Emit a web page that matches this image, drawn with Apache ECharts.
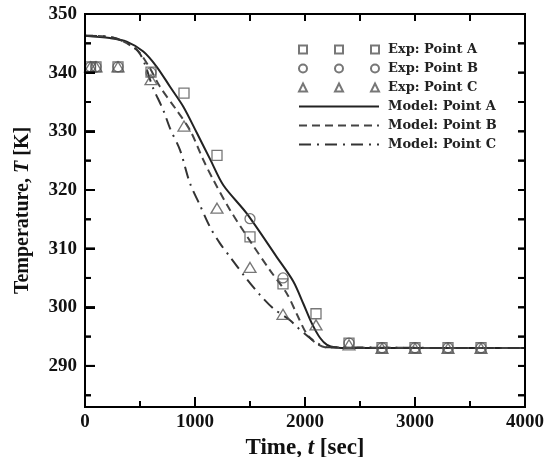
<!DOCTYPE html>
<html>
<head>
<meta charset="utf-8">
<script src="https://cdn.jsdelivr.net/npm/echarts@6/dist/echarts.min.js"></script>
<style>
html,body{margin:0;padding:0;background:#fff;}
#chart{width:555px;height:457px;}
</style>
</head>
<body>
<div id="chart"></div>
<script>
// ---- data ----
const expA = [[50,341],[100,341],[300,341],[600,340.1],[900,336.5],[1200,325.9],[1500,312.0],[1800,304.0],[2100,298.9],[2400,293.9],[2700,293.1],[3000,293.1],[3300,293.1],[3600,293.1]];
const expB = [[50,341],[100,341],[300,341],[600,340],[1500,315.1],[1800,305.0],[2400,293.9],[2700,293.1],[3000,293.1],[3300,293.1],[3600,293.1]];
const expC = [[50,341],[100,341],[300,341],[600,338.8],[900,330.9],[1200,316.9],[1500,306.8],[1800,298.8],[2100,297.0],[2400,293.6],[2700,293.0],[3000,293.0],[3300,293.0],[3600,293.0]];

const modelA = [[0,346.3],[227,345.9],[379,345.3],[530,343.6],[652,341.0],[773,337.6],[894,334.2],[1015,329.8],[1136,325.3],[1258,320.8],[1470,316.0],[1742,308.6],[1894,304.4],[1985,300.6],[2061,297.3],[2136,294.8],[2200,293.6],[2280,293.15],[2400,293.05],[4000,293.05]];
const modelB = [[0,346.3],[250,346.0],[470,343.9],[582,341.0],[682,337.6],[833,333.6],[955,330.2],[1076,325.1],[1167,321.7],[1318,316.6],[1515,310.9],[1682,306.3],[1833,302.4],[1924,298.9],[2015,295.5],[2106,293.8],[2200,293.15],[4000,293.05]];
const modelC = [[0,346.3],[250,346.0],[485,343.6],[621,337.3],[712,333.6],[773,330.5],[864,326.8],[955,321.1],[1045,317.4],[1136,313.7],[1227,310.9],[1318,308.6],[1455,305.2],[1591,302.1],[1712,299.8],[1864,297.8],[1924,296.7],[2030,295.0],[2120,293.8],[2200,293.2],[4000,293.05]];

const seriesNames = ['Exp: Point A','Exp: Point B','Exp: Point C','Model: Point A','Model: Point B','Model: Point C'];
const xMajorTicks = [1000,2000,3000];
const xMinorTicks = [500,1500,2500,3500];
const xTopTicks = [500,1000,1500,2000,2500,3000,3500];
const yMajorTicks = [290,300,310,320,330,340,350];
const yMinorTicks = [285,295,305,315,325,335,345];
const yRightTicks = [285,290,295,300,305,310,315,320,325,330,335,340,345];
const xMin = 0, xMax = 4000, yMin = 283, yMax = 350;

// ---- chart ----
const chart = echarts.init(document.getElementById('chart'));
const serif = 'Liberation Serif';
const AX = '#000';
const MK = '#555';

const sqIcon = 'path://M0,0h8v8h-8z M36,0h8v8h-8z M72,0h8v8h-8z';
const ciIcon = 'path://M8,4A4,4 0 1,1 0,4A4,4 0 1,1 8,4Z M44,4A4,4 0 1,1 36,4A4,4 0 1,1 44,4Z M80,4A4,4 0 1,1 72,4A4,4 0 1,1 80,4Z';
const trIcon = 'path://M4,0L8,8L0,8Z M40,0L44,8L36,8Z M76,0L80,8L72,8Z';

const hollow = {color:'rgba(0,0,0,0)', borderColor:MK, borderWidth:1.3};

// tick groups: [values-as-points, vertical?, length, direction]
const tickGroups = [
  [xMajorTicks.map(v=>[v, yMin]), true, 10, -1],
  [xMinorTicks.map(v=>[v, yMin]), true, 6, -1],
  [xTopTicks.map(v=>[v, yMax]), true, 7, 1],
  [yMajorTicks.map(v=>[xMin, v]), false, 10, 1],
  [yMinorTicks.map(v=>[xMin, v]), false, 6, 1],
  [yRightTicks.map(v=>[xMax, v]), false, 7, -1]
];

const tickSeriesList = tickGroups.map(function(g, i){
  const vertical = g[1], len = g[2], sign = g[3];
  return {
    name:'tick' + i, type:'scatter', data:g[0], silent:true, clip:false, z:6,
    symbol:'rect',
    symbolSize: vertical ? [2, len] : [len, 2],
    symbolOffset: vertical ? [0, sign*len/2] : [sign*len/2, 0],
    itemStyle:{color:AX, opacity:1}
  };
});

const option = {
  animation:false,
  grid:{left:85, right:30, top:14, bottom:50, outerBoundsMode:'none'},
  legend:{
    orient:'vertical', left:293, top:38,
    itemWidth:80, itemHeight:8, itemGap:6,
    textStyle:{fontFamily:'DejaVu Serif', fontWeight:'bold', fontSize:13, color:'#222', padding:[0,0,0,4]},
    data:[
      {name:seriesNames[0], icon:sqIcon},
      {name:seriesNames[1], icon:ciIcon},
      {name:seriesNames[2], icon:trIcon},
      {name:seriesNames[3], itemStyle:{opacity:0}},
      {name:seriesNames[4], itemStyle:{opacity:0}},
      {name:seriesNames[5], itemStyle:{opacity:0}}
    ]
  },
  xAxis:{
    type:'value', min:xMin, max:xMax, interval:1000,
    axisLine:{show:true, lineStyle:{color:AX, width:2}},
    axisTick:{show:true, inside:true, length:10, lineStyle:{color:AX, width:2}},
    splitLine:{show:false},
    axisLabel:{fontFamily:serif, fontWeight:'bold', fontSize:19, color:'#111', margin:6,
               formatter:function(v){return String(v);}},
    name:'{b|Time, }{i|t}{b| [sec]}', nameLocation:'middle', nameGap:27,
    nameTextStyle:{rich:{
      b:{fontFamily:serif, fontWeight:'bold', fontSize:23, color:'#111'},
      i:{fontFamily:serif, fontWeight:'bold', fontStyle:'italic', fontSize:23, color:'#111'}
    }}
  },
  yAxis:{
    type:'value', min:yMin, max:yMax,
    axisLine:{show:true, lineStyle:{color:AX, width:2}},
    axisTick:{show:true, inside:true, length:10, customValues:yMajorTicks, lineStyle:{color:AX, width:2}},
    axisLabel:{show:true, customValues:yMajorTicks, fontFamily:serif, fontWeight:'bold', fontSize:19, color:'#111', margin:8},
    splitLine:{show:false},
    name:'{b|Temperature, }{i|T}{b| [K]}', nameLocation:'middle', nameGap:52,
    nameTextStyle:{rich:{
      b:{fontFamily:serif, fontWeight:'bold', fontSize:20, color:'#111'},
      i:{fontFamily:serif, fontWeight:'bold', fontStyle:'italic', fontSize:20, color:'#111'}
    }}
  },
  series: tickSeriesList.concat([
    {name:seriesNames[3], type:'line', data:modelA, smooth:0.3, symbol:'none', z:3,
     lineStyle:{color:'#222', width:2, type:'solid'}, itemStyle:{color:'#222'}},
    {name:seriesNames[4], type:'line', data:modelB, smooth:0.3, symbol:'none', z:3,
     lineStyle:{color:'#444', width:2, type:[8,5]}, itemStyle:{color:'#444'}},
    {name:seriesNames[5], type:'line', data:modelC, smooth:0.3, symbol:'none', z:3,
     lineStyle:{color:'#333', width:2, type:[12,6,2,6]}, itemStyle:{color:'#333'}},
    {name:seriesNames[0], type:'scatter', data:expA, symbol:'rect', symbolSize:10, z:4, itemStyle:hollow},
    {name:seriesNames[1], type:'scatter', data:expB, symbol:'circle', symbolSize:10, z:4, itemStyle:hollow},
    {name:seriesNames[2], type:'scatter', data:expC, symbol:'triangle', symbolSize:[12,10], z:4, itemStyle:hollow}
  ])
};
chart.setOption(option);

// frame (top/right edges) and a fallback copy of the ticks, positioned with the chart's own scales
try {
  const els = [];
  const c00 = chart.convertToPixel({xAxisIndex:0, yAxisIndex:0}, [xMin, yMin]);
  const c11 = chart.convertToPixel({xAxisIndex:0, yAxisIndex:0}, [xMax, yMax]);
  els.push({type:'rect', z:100, silent:true,
    shape:{x:c00[0], y:c11[1], width:c11[0]-c00[0], height:c00[1]-c11[1]},
    style:{fill:null, stroke:AX, lineWidth:2}});
  tickGroups.forEach(function(g){
    const vertical = g[1], len = g[2], sign = g[3];
    g[0].forEach(function(pt){
      const p = chart.convertToPixel({xAxisIndex:0, yAxisIndex:0}, pt);
      els.push({type:'line', z:100, silent:true,
        shape: vertical ? {x1:p[0], y1:p[1], x2:p[0], y2:p[1]+sign*len}
                        : {x1:p[0], y1:p[1], x2:p[0]+sign*len, y2:p[1]},
        style:{stroke:AX, lineWidth:2}});
    });
  });
  chart.setOption({graphic:{elements:els}});
} catch (e) { console.error(e); }
</script>
</body>
</html>
